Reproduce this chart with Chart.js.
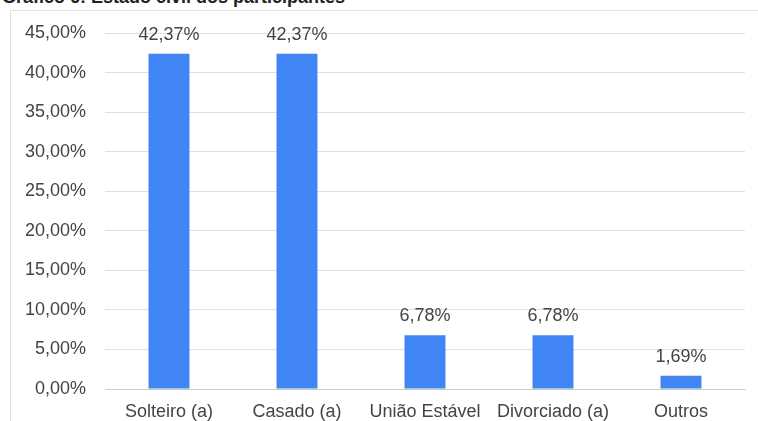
<!DOCTYPE html>
<html>
<head>
<meta charset="utf-8">
<script src="https://cdn.jsdelivr.net/npm/chart.js@4"></script>
<style>
  html, body { margin: 0; padding: 0; background: #fff; overflow: hidden; }
  #wrap { position: relative; width: 758px; height: 421px; }
  #title { position: absolute; left: 2px; top: -12px; font: bold 18px "Liberation Sans", Arial, sans-serif; line-height: 18px; color: #222; white-space: nowrap; }
  #frame { position: absolute; left: 10px; top: 10px; width: 760px; height: 420px; border-left: 1px solid #e0e0e0; border-top: 1px solid #e0e0e0; }
  #c { position: absolute; left: 0; top: 0; }
</style>
</head>
<body>
<div id="wrap">
  <div id="title">Gráfico 6: Estado civil dos participantes</div>
  <div id="frame"></div>
  <canvas id="c" width="758" height="421"></canvas>
</div>
<script>
const categories = ["Solteiro (a)", "Casado (a)", "União Estável", "Divorciado (a)", "Outros"];
const values = [42.37, 42.37, 6.78, 6.78, 1.69];
const yTicks = [0, 5, 10, 15, 20, 25, 30, 35, 40, 45];

const fmt = v => v.toFixed(2).replace('.', ',') + '%';
const FONT = '"Liberation Sans", Arial, sans-serif';

const labelPlugin = {
  id: 'valueLabels',
  afterDatasetsDraw(chart) {
    const ctx = chart.ctx;
    const meta = chart.getDatasetMeta(0);
    ctx.save();
    ctx.font = '18px ' + FONT;
    ctx.fillStyle = '#444';
    ctx.textAlign = 'center';
    ctx.textBaseline = 'middle';
    meta.data.forEach((bar, i) => {
      ctx.fillText(fmt(values[i]), bar.x, bar.y - 19);
    });
    ctx.restore();
  }
};

new Chart(document.getElementById('c'), {
  type: 'bar',
  data: {
    labels: categories,
    datasets: [{
      data: values,
      backgroundColor: '#4285f4',
      borderWidth: 0,
      barPercentage: 0.32,
      categoryPercentage: 1.0
    }]
  },
  options: {
    responsive: false,
    animation: false,
    events: [],
    layout: { padding: { left: 0, right: 13, top: 33, bottom: 0 } },
    plugins: { legend: { display: false }, tooltip: { enabled: false }, title: { display: false } },
    scales: {
      x: {
        grid: { display: false, drawTicks: false },
        border: { display: true, color: '#cccccc', width: 1 },
        ticks: { font: { size: 18, family: FONT }, color: '#444', padding: 12, maxRotation: 0, autoSkip: false },
        afterFit(s) { s.height = 32; }
      },
      y: {
        min: 0, max: 45,
        afterBuildTicks(s) { s.ticks = yTicks.map(v => ({ value: v })); },
        grid: { color: '#e0e0e0', drawTicks: false, lineWidth: 1 },
        border: { display: false },
        ticks: { font: { size: 18, family: FONT }, color: '#444', padding: 19, callback: v => fmt(v) },
        afterFit(s) { s.width = 105; }
      }
    }
  },
  plugins: [labelPlugin]
});
</script>
</body>
</html>
